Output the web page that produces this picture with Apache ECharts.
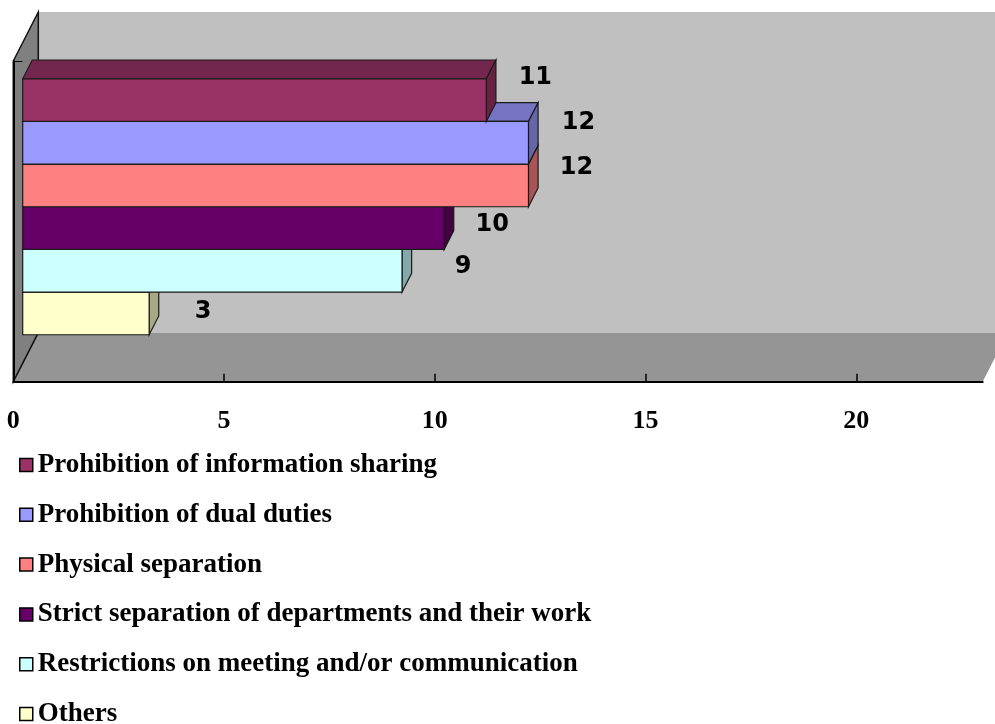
<!DOCTYPE html>
<html lang="en">
<head>
<meta charset="UTF-8">
<title>Separation measures</title>
<style>html,body{margin:0;padding:0;background:#fff;}</style>
</head>
<body>
<div id="main" style="width:995px;height:724px;"></div>
<script src="https://cdn.jsdelivr.net/npm/echarts@6.0.0/dist/echarts.min.js"></script>
<script>
// data
var measures = [
    'Prohibition of information sharing',
    'Prohibition of dual duties',
    'Physical separation',
    'Strict separation of departments and their work',
    'Restrictions on meeting and/or communication',
    'Others'
];
var counts = [11, 12, 12, 10, 9, 3];
var tickLabels = [0, 5, 10, 15, 20];
var faceColors = ['#993366', '#9999ff', '#ff8080', '#660066', '#ccffff', '#ffffcc'];
// small label nudges (px), [dx, dy]
var labelNudge = [[49, -22], [50, -20], [48, -18], [48, -3], [61, -4], [54, -2]];

var X_MAX = 23;
// 3d look: full depth of walls, bars sit between F0 and F1 of it
var DX = 25, DY = -49;
var F0 = 0.376, F1 = 0.76;
var TOP_GAP = 0.113, BAR_SHARE = 0.133;

function shade(hex, k) {
    var n = parseInt(hex.slice(1), 16);
    var r = Math.round(((n >> 16) & 255) * k);
    var g = Math.round(((n >> 8) & 255) * k);
    var b = Math.round((n & 255) * k);
    return 'rgb(' + r + ',' + g + ',' + b + ')';
}

// walls and floor, taken from the grid rect and the x scale
function backdrop(params, api) {
    var cs = params.coordSys;
    var L = cs.x, T = cs.y, B = cs.y + cs.height;
    var R = api.coord([X_MAX, 0])[0];
    return {
        type: 'group',
        children: [
            {type: 'rect', shape: {x: L + DX, y: T + DY, width: R - L + 40, height: B - T},
                style: {fill: '#c0c0c0'}},
            {type: 'polygon', shape: {points: [[L, B], [R, B], [R + DX, B + DY], [L + DX, B + DY]]},
                style: {fill: '#959595'}},
            {type: 'polygon', shape: {points: [[L, T], [L + DX, T + DY], [L + DX, B + DY], [L, B]]},
                style: {fill: '#808080', stroke: '#111', lineWidth: 1.5}}
        ]
    };
}

function barRenderer(i) {
    return function (params, api) {
        var cs = params.coordSys;
        var band = cs.height;
        var h = band * BAR_SHARE;
        var top = cs.y + band * TOP_GAP + i * h;
        var v = api.value(0);
        var xa = api.coord([0, 0])[0];
        var xb = api.coord([v, 0])[0];
        var fx = DX * F0, fy = DY * F0;
        var bx = DX * (F1 - F0), by = DY * (F1 - F0);
        var x0 = xa + fx, x1 = xb + fx, y0 = top + fy, y1 = y0 + h;
        var c = faceColors[i];
        var edge = {stroke: '#1a1a1a', lineWidth: 1.2};
        return {
            type: 'group',
            children: [
                {type: 'polygon', shape: {points: [[x0, y0], [x1, y0], [x1 + bx, y0 + by], [x0 + bx, y0 + by]]},
                    style: Object.assign({fill: shade(c, 0.76)}, edge)},
                {type: 'polygon', shape: {points: [[x1, y0], [x1 + bx, y0 + by], [x1 + bx, y1 + by], [x1, y1]]},
                    style: Object.assign({fill: shade(c, 0.66)}, edge)},
                {type: 'rect', shape: {x: x0, y: y0, width: x1 - x0, height: h},
                    style: Object.assign({fill: c}, edge)},
                {type: 'text', style: {
                    text: String(v), x: x1 + labelNudge[i][0], y: (y0 + y1) / 2 + labelNudge[i][1],
                    align: 'center', verticalAlign: 'middle',
                    fontFamily: 'DejaVu Sans', fontWeight: 'bold', fontSize: 24, fill: '#000'
                }}
            ]
        };
    };
}

var myChart = echarts.init(document.getElementById('main'));

var series = [{
    type: 'custom',
    name: 'backdrop',
    silent: true,
    clip: false,
    z: 1,
    renderItem: backdrop,
    data: [[0, 0]]
}];
for (var i = 0; i < measures.length; i++) {
    series.push({
        type: 'custom',
        name: measures[i],
        silent: true,
        clip: false,
        z: 10 - i,
        itemStyle: {color: faceColors[i]},
        renderItem: barRenderer(i),
        encode: {x: 0, y: 1},
        data: [[counts[i], 0]]
    });
}

var option = {
    animation: false,
    backgroundColor: '#fff',
    grid: {left: 13.3, right: 12.3, top: 61, bottom: 342.3},
    xAxis: {
        type: 'value', min: 0, max: X_MAX, interval: 5, z: 3,
        axisLine: {show: true, lineStyle: {color: '#000', width: 2}},
        axisTick: {show: true, inside: true, length: 8, lineStyle: {color: '#000', width: 1.5}},
        splitLine: {show: false},
        axisLabel: {
            showMaxLabel: false, margin: 27,
            fontFamily: 'Liberation Serif', fontWeight: 'bold', fontSize: 26, color: '#000',
            formatter: function (val) { return tickLabels.indexOf(val) >= 0 ? String(val) : ''; }
        }
    },
    yAxis: {
        type: 'category', data: [''], z: 3,
        axisLine: {show: true, lineStyle: {color: '#000', width: 2}},
        axisTick: {show: true, inside: true, length: 9, lineStyle: {color: '#000', width: 1}},
        axisLabel: {show: false}
    },
    legend: {
        data: measures,
        orient: 'vertical',
        left: 19, top: 451.5, height: 320, padding: 0,
        icon: 'rect', itemWidth: 13, itemHeight: 13, itemGap: 22.8, itemTextGap: 4,
        itemStyle: {borderColor: '#000', borderWidth: 1.5},
        selectedMode: false,
        textStyle: {fontFamily: 'Liberation Serif', fontWeight: 'bold', fontSize: 27, color: '#000'}
    },
    series: series
};
myChart.setOption(option);
</script>
</body>
</html>
